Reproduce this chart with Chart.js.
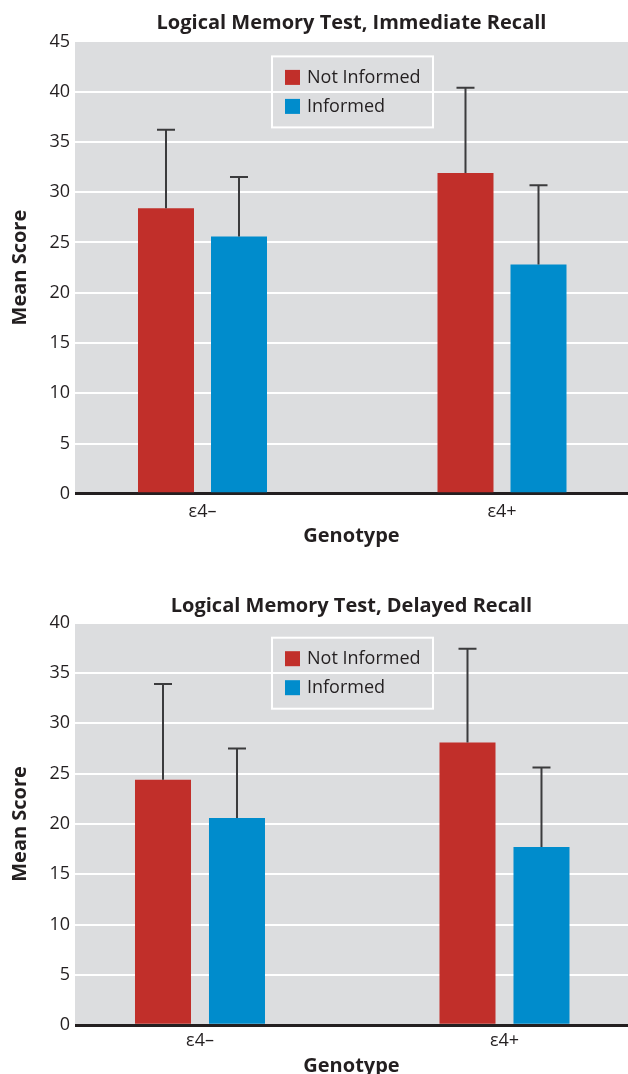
<!DOCTYPE html>
<html>
<head>
<meta charset="utf-8">
<script src="https://cdn.jsdelivr.net/npm/chart.js@4.4.1/dist/chart.umd.min.js"></script>
<style>
  html, body { margin: 0; padding: 0; background: #ffffff; overflow: hidden; }
  #wrap { position: relative; width: 628px; height: 1074px; overflow: hidden; }
  .box { position: absolute; left: 0; width: 628px; }
</style>
</head>
<body>
<div id="wrap">
  <div class="box" style="top:0;height:560px;"><canvas id="c1" width="628" height="560"></canvas></div>
  <div class="box" style="top:560px;height:520px;"><canvas id="c2" width="628" height="520"></canvas></div>
</div>
<script>
// ---------- DATA ----------
const genotypes = ['ε4–', 'ε4+'];
const seriesNames = ['Not Informed', 'Informed'];

const immediateNotInformed   = [28.4, 31.9];
const immediateInformed      = [25.6, 22.8];
const immediateNotInformedSD = [7.8, 8.5];
const immediateInformedSD    = [5.9, 7.9];
const immediateTicks = [0, 5, 10, 15, 20, 25, 30, 35, 40, 45];

const delayedNotInformed   = [24.4, 28.1];
const delayedInformed      = [20.6, 17.7];
const delayedNotInformedSD = [9.5, 9.3];
const delayedInformedSD    = [6.9, 7.9];
const delayedTicks = [0, 5, 10, 15, 20, 25, 30, 35, 40];

// ---------- STYLE ----------
const RED = '#c12f2a';
const BLUE = '#008ccc';
const PLOT_BG = '#dcdddf';
const INK = '#231f20';
const FONT = "'Open Sans', 'Noto Sans', sans-serif";

Chart.defaults.font.family = FONT;
Chart.defaults.color = INK;

const plotBg = {
  id: 'plotBg',
  beforeDraw(chart) {
    const { ctx, chartArea: a } = chart;
    ctx.save();
    ctx.fillStyle = PLOT_BG;
    ctx.fillRect(a.left, a.top, a.right - a.left, a.bottom - a.top);
    ctx.restore();
  }
};

const errorBars = {
  id: 'errorBars',
  afterDatasetsDraw(chart) {
    const { ctx } = chart;
    const y = chart.scales.y;
    ctx.save();
    ctx.strokeStyle = '#3b3b3d';
    ctx.lineWidth = 2;
    chart.data.datasets.forEach((ds, i) => {
      const meta = chart.getDatasetMeta(i);
      meta.data.forEach((bar, j) => {
        const v = ds.data[j].y;
        const top = y.getPixelForValue(v + ds.errors[j]);
        ctx.beginPath();
        ctx.moveTo(bar.x, bar.y);
        ctx.lineTo(bar.x, top);
        ctx.moveTo(bar.x - 9, top);
        ctx.lineTo(bar.x + 9, top);
        ctx.stroke();
      });
    });
    ctx.restore();
  }
};

const boxLegend = {
  id: 'boxLegend',
  afterDatasetsDraw(chart) {
    const { ctx, chartArea: a } = chart;
    const bx = a.left + 197, by = a.top + 15, bw = 161, bh = 71;
    ctx.save();
    ctx.strokeStyle = '#ffffff';
    ctx.lineWidth = 2;
    ctx.strokeRect(bx, by, bw, bh);
    ctx.font = '18px ' + FONT;
    ctx.textBaseline = 'middle';
    ctx.textAlign = 'left';
    chart.data.datasets.forEach((ds, i) => {
      const cy = by + 21 + i * 29;
      ctx.fillStyle = ds.backgroundColor;
      ctx.fillRect(bx + 13, cy - 7.5, 15, 15);
      ctx.fillStyle = INK;
      ctx.fillText(ds.label, bx + 35, cy + 0.5);
    });
    ctx.restore();
  }
};

function makeChart(id, title, seriesA, seriesB, errA, errB, ticks, L) {
  const toXY = arr => arr.map((v, i) => ({ x: i, y: v }));
  return new Chart(document.getElementById(id), {
    type: 'bar',
    data: {
      datasets: [
        { label: seriesNames[0], data: toXY(seriesA), errors: errA, backgroundColor: RED,
          categoryPercentage: L.cat, barPercentage: L.bar },
        { label: seriesNames[1], data: toXY(seriesB), errors: errB, backgroundColor: BLUE,
          categoryPercentage: L.cat, barPercentage: L.bar }
      ]
    },
    options: {
      responsive: false,
      animation: false,
      layout: { padding: { left: 0, right: 0, top: 0, bottom: 0 } },
      plugins: {
        legend: { display: false },
        tooltip: { enabled: false },
        title: {
          display: true,
          fullSize: false,
          text: title,
          color: INK,
          font: { size: 20, weight: 'bold', family: FONT },
          padding: { top: L.titleTop, bottom: L.titleBottom }
        }
      },
      scales: {
        x: {
          type: 'linear',
          offset: false,
          min: L.xmin,
          max: L.xmax,
          grid: { display: false, drawTicks: false },
          border: { display: false },
          afterBuildTicks: s => { s.ticks = genotypes.map((g, i) => ({ value: i })); },
          afterFit: s => { s.height = L.xHeight; },
          ticks: {
            autoSkip: false,
            maxRotation: 0,
            padding: L.xTickPad,
            color: INK,
            font: { size: 18 },
            callback: v => genotypes[v]
          },
          title: {
            display: true,
            text: 'Genotype',
            color: INK,
            font: { size: 20, weight: 'bold' },
            padding: { top: 0, bottom: L.xTitlePad }
          }
        },
        y: {
          min: ticks[0],
          max: ticks[ticks.length - 1],
          afterBuildTicks: s => { s.ticks = ticks.map(v => ({ value: v })); },
          afterFit: s => { s.width = 75; },
          grid: {
            drawTicks: false,
            color: c => (c.tick && c.tick.value === 0) ? INK : '#ffffff',
            lineWidth: c => (c.tick && c.tick.value === 0) ? 3 : 2
          },
          border: { display: false },
          ticks: { padding: 5, color: INK, font: { size: 18 } },
          title: {
            display: true,
            text: 'Mean Score',
            color: INK,
            font: { size: 20, weight: 'bold' },
            padding: { top: 8, bottom: 0 }
          }
        }
      }
    },
    plugins: [plotBg, errorBars, boxLegend]
  });
}

makeChart('c1', 'Logical Memory Test, Immediate Recall',
  immediateNotInformed, immediateInformed, immediateNotInformedSD, immediateInformedSD, immediateTicks,
  { titleTop: 11, titleBottom: 6.4, xHeight: 66.2, xTickPad: 7.4, xTitlePad: 12,
    xmin: -0.4257, xmax: 1.4207, cat: 0.4875, bar: 0.767 });

makeChart('c2', 'Logical Memory Test, Delayed Recall',
  delayedNotInformed, delayedInformed, delayedNotInformedSD, delayedInformedSD, delayedTicks,
  { titleTop: 34.5, titleBottom: 4.2, xHeight: 54.8, xTickPad: 5, xTitlePad: 2,
    xmin: -0.4105, xmax: 1.4056, cat: 0.486, bar: 0.757 });
</script>
</body>
</html>
